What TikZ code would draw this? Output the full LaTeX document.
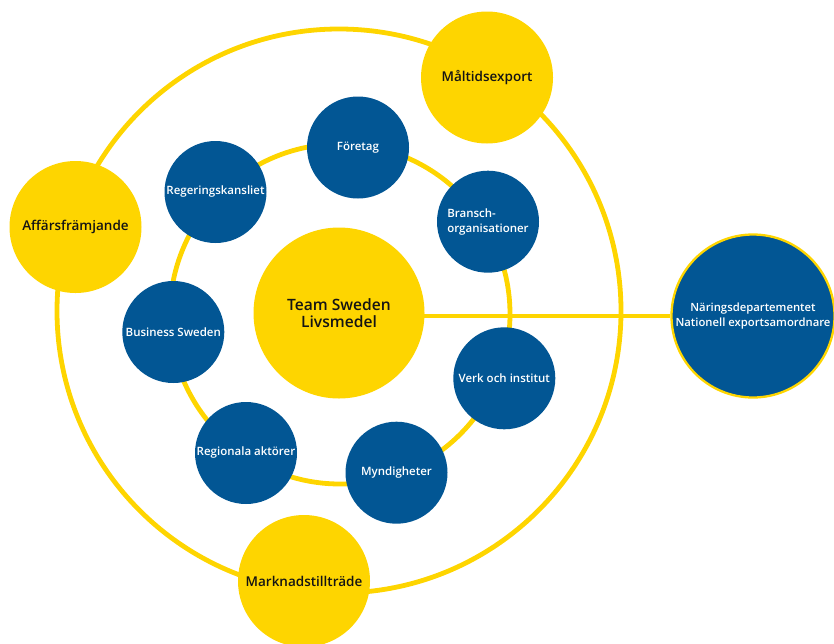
\documentclass[tikz,border=0pt]{standalone}
\usepackage{fontspec}
\setmainfont{Open Sans}[BoldFont={* Semibold}]
\usetikzlibrary{backgrounds}
\definecolor{sy}{RGB}{254,213,0}
\definecolor{sb}{RGB}{2,86,148}
\definecolor{txt}{RGB}{20,20,20}
\tikzset{
  ring/.style={draw=sy, line width=4.8pt},
  link/.style={draw=sy, line width=4.6pt},
  hub/.style={circle, fill=sy, minimum size=171pt, inner sep=0pt, text=txt,
    font=\bfseries\fontsize{15.6}{17.7}\selectfont, align=center},
  theme/.style={circle, fill=sy, minimum size=132pt, inner sep=0pt, text=txt,
    font=\bfseries\fontsize{13.5}{15}\selectfont},
  actor/.style={circle, fill=sb, minimum size=102pt, inner sep=0pt, text=white,
    font=\bfseries\fontsize{11.5}{15}\selectfont, align=center},
  lead/.style={circle, fill=sb, draw=sy, line width=2.3pt, minimum size=163pt,
    inner sep=0pt, text=white, font=\bfseries\fontsize{11.3}{15}\selectfont, align=center}
}
\begin{document}
\begin{tikzpicture}[x=1pt,y=-1pt]
\useasboundingbox (0,0) rectangle (834,643);
\clip (0,0) rectangle (834,643);
% central and ring nodes
\node[hub] (team) at (339,313) {Team Sweden\\Livsmedel};
\node[lead] (nar) at (753,316) {Näringsdepartementet\\Nationell exportsamordnare};
\node[theme] (affars) at (75.5,227) {Affärsfrämjande};
\node[theme] (maltid) at (487,77.5) {Måltidsexport};
\node[theme] (marknad) at (304,581) {Marknadstillträde};
\node[actor] (foretag) at (358,147.5) {Företag};
\node[actor] (regering) at (215.5,192) {Regeringskansliet};
\node[actor, align=left] (bransch) at (488,221.7) {Bransch-\\organisationer};
\node[actor] (business) at (173.3,332) {Business Sweden};
\node[actor] (verk) at (504.3,378.3) {Verk och institut};
\node[actor] (myndig) at (396.5,472.7) {Myndigheter};
\node[actor] (regional) at (246,453) {Regionala aktörer};
\begin{scope}[on background layer]
  \draw[ring] (339,311) circle[radius=282pt];
  \draw[ring] (340,314) circle[radius=170pt];
  \draw[link] (team.center |- nar.center) -- (nar);
\end{scope}
\end{tikzpicture}
\end{document}
